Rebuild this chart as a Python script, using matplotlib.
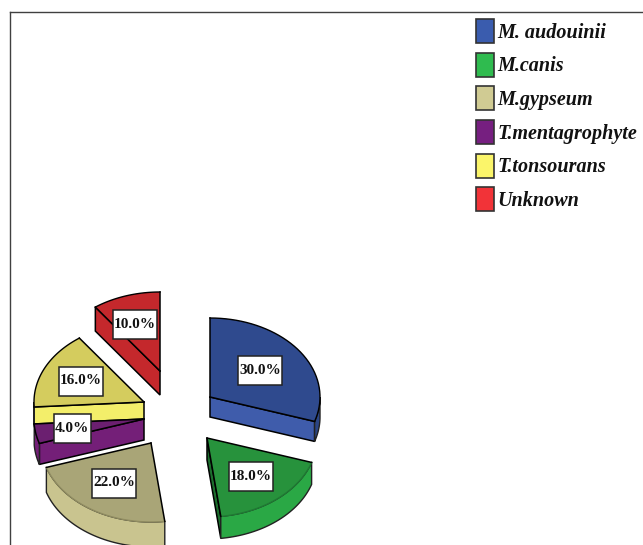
import numpy as np
import matplotlib.pyplot as plt
from matplotlib.patches import Patch, Polygon, Rectangle

names = ['M. audouinii', 'M.canis', 'M.gypseum', 'T.mentagrophyte', 'T.tonsourans', 'Unknown']
shares = [30.0, 18.0, 22.0, 4.0, 16.0, 10.0]

legend_colors = ['#3a5cae', '#2fbb4f', '#d0cb93', '#761f80', '#fbf56a', '#f23338']
top_colors = ['#2f4a8e', '#27923c', '#a9a577', '#6b1f70', '#d4cc5e', '#c4282c']
rim_colors = ['#2b4585', '#2aa845', '#c9c48f', '#741f78', '#f3ee6a', '#c4282c']
side_colors = ['#3f5cab', '#1c6e2d', '#c9c48f', '#741f78', '#f3ee6a', '#c4282c']
arc_edges = ['black', '#1f7a33', '#8f8b60', 'black', 'black', 'black']

# where each exploded slice sits in the picture (pixels)
centers = [(210, 397), (207, 438), (151, 443), (144, 419), (144, 402), (160, 371)]
depths = [20, 22, 25, 21, 17, 24]
label_pos = [(260, 370), (251, 476), (114, 483), (72, 428), (81, 381), (135, 324)]
rx, ry = 110, 79


def arc(cx, cy, a0, a1, n=40):
    a = np.radians(np.linspace(a0, a1, n))
    return np.column_stack([cx + rx * np.sin(a), cy - ry * np.cos(a)])


def radial_side(cx, cy, ang, depth):
    p = arc(cx, cy, ang, ang, 1)[0]
    return [(cx, cy), p, (p[0], p[1] + depth), (cx, cy + depth)]


fig = plt.figure(figsize=(6.43, 5.45), dpi=100)
ax = fig.add_axes([10 / 643, 0, 633 / 643, 533 / 545])
ax.set_xlim(10, 643)
ax.set_ylim(545, 12)
ax.set_xticks([])
ax.set_yticks([])
for s in ['right', 'bottom']:
    ax.spines[s].set_visible(False)
for s in ['left', 'top']:
    ax.spines[s].set_color('#404040')
    ax.spines[s].set_linewidth(1.0)

edges = np.concatenate([[0], np.cumsum(shares)]) * 3.6

# back slices first so the front ones paint over them
for i in [5, 4, 3, 2, 1, 0]:
    cx, cy = centers[i]
    d = depths[i]
    a0, a1 = edges[i], edges[i + 1]
    z = (5 - i) * 3
    # only the cut faces turned towards the viewer
    if np.sin(np.radians(a0)) < 0:
        ax.add_patch(Polygon(radial_side(cx, cy, a0, d), closed=True, fc=side_colors[i],
                             ec='black', lw=1.1, zorder=2 + z))
    if np.sin(np.radians(a1)) > 0.01:
        ax.add_patch(Polygon(radial_side(cx, cy, a1, d), closed=True, fc=side_colors[i],
                             ec='black', lw=1.1, zorder=2 + z))
    r0, r1 = max(a0, 90), min(a1, 270)
    if r0 < r1:
        top_arc = arc(cx, cy, r0, r1)
        low_arc = top_arc[::-1] + [0, d]
        ax.add_patch(Polygon(np.vstack([top_arc, low_arc]), closed=True, fc=rim_colors[i],
                             ec='#222222', lw=1.0, zorder=3 + z))
    top = np.vstack([[(cx, cy)], arc(cx, cy, a0, a1)])
    ax.add_patch(Polygon(top, closed=True, fc=top_colors[i], ec='none', zorder=4 + z))
    ax.plot(*arc(cx, cy, a0, a1).T, color=arc_edges[i], lw=1.0, zorder=4 + z)
    for ang in (a0, a1):
        p = arc(cx, cy, ang, ang, 1)[0]
        ax.plot([cx, p[0]], [cy, p[1]], color='black', lw=1.1, zorder=4 + z)

for share, (x, y) in zip(shares, label_pos):
    label = '%.1f%%' % share
    w = 44 if len(label) == 5 else 37
    ax.add_patch(Rectangle((x - w / 2, y - 14.5), w, 29, fc='white', ec='#222222', lw=1.1, zorder=40))
    ax.text(x, y, label, ha='center', va='center', fontsize=11, fontweight='bold',
            family='Liberation Serif', color='#111111', zorder=41)

handles = [Patch(fc=c, ec='#333333', lw=1.2) for c in legend_colors]
leg = ax.legend(handles, names, loc='upper left', bbox_to_anchor=(476 / 643, 1 - 19 / 545),
                bbox_transform=fig.transFigure, frameon=False, borderpad=0, borderaxespad=0,
                handlelength=0.9, handleheight=1.47, handletextpad=0.15, labelspacing=0.47,
                prop={'family': 'Liberation Serif', 'style': 'italic', 'weight': 'bold', 'size': 14.5})
for t in leg.get_texts():
    t.set_color('#111111')

fig.savefig('out.png', dpi=100, facecolor='white')
